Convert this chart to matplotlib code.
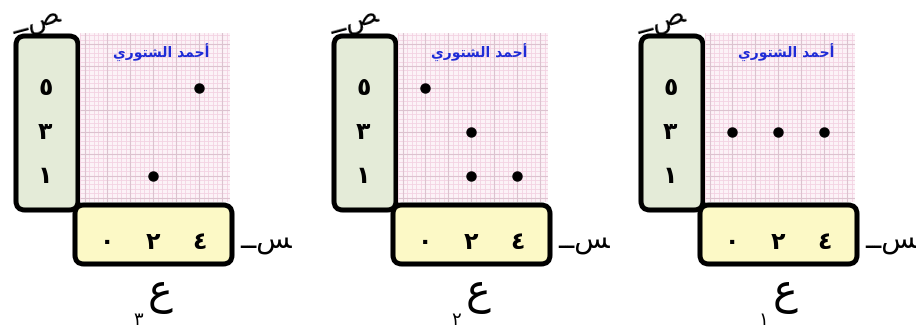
import numpy as np
import matplotlib
matplotlib.use('Agg')
import matplotlib.pyplot as plt
from matplotlib.patches import FancyBboxPatch

# Data: three relations ع٣ ، ع٢ ، ع١ (left to right)
x_ticks = [0, 2, 4]
x_labels = ['\u0660', '\u0662', '\u0664']      # ٠ ٢ ٤
y_ticks = [1, 3, 5]
y_labels = ['\u0661', '\u0663', '\u0665']      # ١ ٣ ٥
rel_names = ['\u0663', '\u0662', '\u0661']     # subscripts ٣ ٢ ١
r3_x = [2, 4]
r3_y = [1, 5]
r2_x = [0, 2, 2, 4]
r2_y = [5, 3, 1, 1]
r1_x = [0, 2, 4]
r1_y = [3, 3, 3]
rel_x = [r3_x, r2_x, r1_x]
rel_y = [r3_y, r2_y, r1_y]

# shaped Arabic text (presentation forms, visual order)
AUTHOR = '\uFEF1\uFEAD\uFEEE\uFE98\uFEB8\uFEDF\uFE8D \uFEAA\uFEE4\uFEA3\uFE83'
SAD = '\u0640\u0640\uFEBA'      # ـص
SEEN = '\u0640\u0640\uFEB2'     # ـس
AIN = '\u0639'

W, H = 916, 336
OFFSETS = [0, 318, 625]
GREEN_BOX = '#e4ebd8'
YELLOW_BOX = '#fcf9c6'
PINK_BG = '#fcf2f7'

plt.rcParams['font.family'] = ['DejaVu Sans']

fig = plt.figure(figsize=(W / 100, H / 100), dpi=100, facecolor='white')

# background layer in pixel coordinates for boxes and letters
bg = fig.add_axes([0, 0, 1, 1], zorder=0)
bg.set_xlim(0, W)
bg.set_ylim(H, 0)
bg.axis('off')


def fig_rect(x0, y0, x1, y1):
    return [x0 / W, 1 - y1 / H, (x1 - x0) / W, (y1 - y0) / H]


for i, off in enumerate(OFFSETS):
    # boxes
    ybox = FancyBboxPatch((16 + off, 36), 62, 174,
                          boxstyle='round,pad=0,rounding_size=9',
                          facecolor=GREEN_BOX, edgecolor='black', lw=3.6)
    xbox = FancyBboxPatch((75 + off, 205), 157, 59,
                          boxstyle='round,pad=0,rounding_size=9',
                          facecolor=YELLOW_BOX, edgecolor='black', lw=3.6)
    bg.add_patch(ybox)
    bg.add_patch(xbox)

    # letters ص ، س ، ع
    bg.text(36 + off, 21, SAD, fontsize=20, ha='center', va='center',
            rotation=15, color='black')
    bg.text(266 + off, 240, SEEN, fontsize=20, ha='center', va='center',
            color='black')
    bg.text(160 + off, 293, AIN, fontsize=30, ha='center', va='center',
            color='black')
    bg.text(138 + off, 320, rel_names[i], fontsize=13, ha='center',
            va='center', color='black')

    # graph-paper axes
    ax = fig.add_axes(fig_rect(80 + off, 33, 230 + off, 202), zorder=1)
    ax.set_facecolor(PINK_BG)
    ax.set_xlim(-27 / 23, 123 / 23)
    ax.set_ylim(1 - 26 / 22, 5 + 55 / 22)
    for s in ax.spines.values():
        s.set_visible(False)

    ax.set_xticks(np.arange(-1.2, 5.4, 0.2), minor=True)
    ax.set_yticks(np.arange(-0.2, 7.6, 0.2), minor=True)
    ax.grid(which='minor', color='#f3d2e2', lw=0.6)
    ax.vlines(np.arange(-1, 6, 1), -0.2, 7.6, color='#dcc2cf', lw=0.8)
    ax.hlines(np.arange(0, 8, 1), -1.2, 5.4, color='#dcc2cf', lw=0.8)

    ax.set_xticks(x_ticks)
    ax.set_xticklabels(x_labels, fontsize=17, fontweight='bold')
    ax.set_yticks(y_ticks)
    ax.set_yticklabels(y_labels, fontsize=17, fontweight='bold')
    ax.tick_params(which='both', length=0)
    ax.tick_params(axis='x', pad=28.5)
    ax.tick_params(axis='y', pad=25)
    for t in ax.get_yticklabels():
        t.set_ha('center')
        t.set_va('center')
    for t in ax.get_xticklabels():
        t.set_va('center')

    ax.text(0.54, 0.88, AUTHOR, transform=ax.transAxes, fontsize=10,
            fontweight='bold', color='#1f2bd6', ha='center', va='center')

    ax.scatter(rel_x[i], rel_y[i], s=42, color='black', zorder=3)

fig.savefig('out.png', dpi=100, facecolor='white')
